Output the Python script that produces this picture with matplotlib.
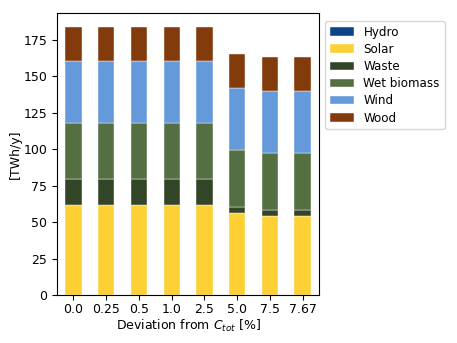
import numpy as np
import matplotlib
matplotlib.use('Agg')
import matplotlib.pyplot as plt

# data
deviation = ['0.0', '0.25', '0.5', '1.0', '2.5', '5.0', '7.5', '7.67']
hydro = [0, 0, 0, 0, 0, 0, 0, 0]
solar = [61.6, 61.6, 61.6, 61.6, 61.6, 56.5, 54.4, 54.2]
waste = [17.8, 17.8, 17.8, 17.8, 17.8, 4.1, 3.9, 4.1]
wet_biomass = [38.6, 38.6, 38.6, 38.6, 38.6, 38.7, 38.9, 38.9]
wind = [42.8, 42.8, 42.8, 42.8, 42.8, 42.5, 42.8, 42.8]
wood = [23.4, 23.4, 23.4, 23.4, 23.4, 23.4, 23.6, 23.6]

series = [('Hydro', hydro, '#0c4587'),
          ('Solar', solar, '#fdd036'),
          ('Waste', waste, '#324526'),
          ('Wet biomass', wet_biomass, '#546f42'),
          ('Wind', wind, '#649ad9'),
          ('Wood', wood, '#843b0c')]

fig = plt.figure(figsize=(4.57, 3.43), dpi=100)
ax = fig.add_axes([0.125, 0.14, 0.573, 0.822])

x = np.arange(len(deviation))
bottom = np.zeros(len(deviation))
for name, vals, col in series:
    vals = np.array(vals, dtype=float)
    ax.bar(x, vals, 0.5, bottom=bottom, color=col, label=name,
           edgecolor='white', linewidth=0.3)
    bottom += vals

ax.set_xticks(x)
ax.set_xticklabels(deviation, fontsize=9)
ax.tick_params(axis='y', labelsize=9)
ax.tick_params(axis='x', pad=2.5)
ax.set_xlim(-0.5, len(deviation) - 0.5)
ax.set_ylim(0, 193.5)
ax.set_yticks(np.arange(0, 176, 25))
ax.set_xlabel('Deviation from $C_{tot}$ [%]', fontsize=9, labelpad=1)
ax.set_ylabel('[TWh/y]', fontsize=9, labelpad=1)

ax.legend(loc='upper left', bbox_to_anchor=(1.01, 0.985), fontsize=8.6,
          labelspacing=0.35, borderaxespad=0.3)

fig.savefig('out.png', dpi=100)
